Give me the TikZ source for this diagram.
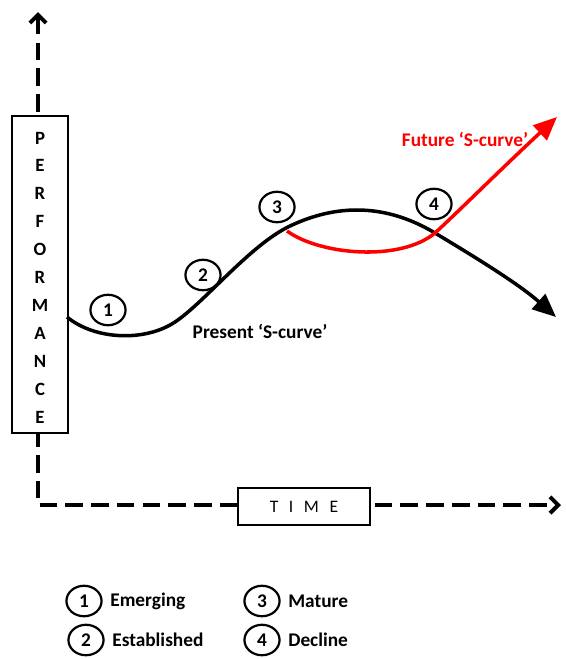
\documentclass[tikz,border=0pt]{standalone}
\usepackage{fontspec}
\setmainfont{Carlito}
\usetikzlibrary{arrows.meta,positioning,shapes.geometric}

\begin{document}
\begin{tikzpicture}[
    x=0.03cm, y=-0.03cm,
    every node/.style={font=\bfseries\fontsize{16.5}{19}\selectfont},
    axis/.style={line width=3.4pt, dash pattern=on 15pt off 7pt},
    curve/.style={line width=3pt, -{Triangle[length=20pt,width=17pt]}},
    num/.style={ellipse, draw, line width=1.9pt, minimum width=30pt, minimum height=26pt, inner sep=0pt},
    box/.style={draw, fill=white, line width=1.5pt, inner sep=0pt}
  ]
  \useasboundingbox (0,0) rectangle (566,659);

  % Axes
  \coordinate (top) at (38,12);
  \coordinate (o) at (38,505);
  \coordinate (right) at (561,505);
  \draw[axis, {Straight Barb[length=7pt,width=14pt]}-{Straight Barb[length=7pt,width=14pt]}] (top) -- (o) -- (right);

  % Axis boxes
  \node[box, minimum width=47.8pt, minimum height=270.6pt] (perf) at (40,274.5) {};
  \foreach \ch [count=\i] in {P,E,R,F,O,R,M,A,N,C,E}
    \node[font=\bfseries\fontsize{16}{18}\selectfont] (p\i) at (40, {138+(\i-1)*27.9}) {\ch};
  \node[box, minimum width=112.7pt, minimum height=31.6pt, font=\fontsize{15}{17}\selectfont] (time) at (304,506.5)
    {T\hspace{9pt}I\hspace{9pt}M\hspace{9pt}E};

  % Present S-curve
  \draw[curve] (67,317) .. controls (95,340) and (145,342) .. (175,322)
    .. controls (205,302) and (250,245) .. (290,226)
    .. controls (330,207) and (380,200) .. (435,233)
    .. controls (480,260) and (520,285) .. (556,317);
  % Future S-curve
  \draw[curve, red] (287,231) .. controls (320,255) and (400,262) .. (435,233)
    .. controls (460,210) and (500,170) .. (557,117);

  % Stage markers
  \node[num] (one) at (108,310) {1};
  \node[num] (two) at (203,275) {2};
  \node[num] (three) at (277,207) {3};
  \node[num] (four) at (434,204) {4};

  \node (present) at (260,331) {Present ‘S-curve’};
  \node[red] (future) at (465,139) {Future ‘S-curve’};

  % Legend
  \node[num] (l1) at (84,601) {1};
  \node[num] (l2) at (86,640) {2};
  \node[num] (l3) at (262,601) {3};
  \node[num] (l4) at (262,640) {4};
  \node[right=3pt of l1] (t1) {Emerging};
  \node[right=3pt of l2] (t2) {Established};
  \node[right=3pt of l3] (t3) {Mature};
  \node[right=3pt of l4] (t4) {Decline};
\end{tikzpicture}
\end{document}
